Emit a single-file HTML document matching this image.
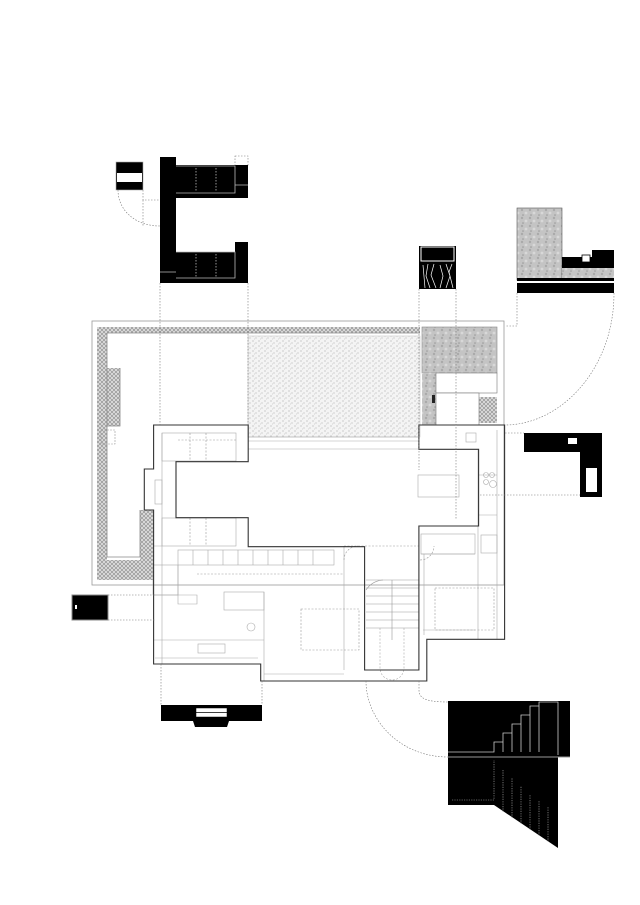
<!DOCTYPE html>
<html><head><meta charset="utf-8"><style>html,body{margin:0;padding:0;background:#fff}svg{display:block}</style></head>
<body>
<svg width="640" height="905" viewBox="0 0 640 905" xmlns="http://www.w3.org/2000/svg">
<defs>
<pattern id="hatch" width="4" height="4" patternUnits="userSpaceOnUse"><rect width="4" height="4" fill="#ddd"/><path d="M0,0L4,4M4,0L0,4" stroke="#888" stroke-width="0.6"/></pattern>
<pattern id="grav" width="6" height="5" patternUnits="userSpaceOnUse"><rect width="6" height="5" fill="#f4f4f4"/><circle cx="1" cy="1" r="0.5" fill="#888"/><circle cx="4" cy="3" r="0.5" fill="#999"/><circle cx="2.5" cy="4" r="0.4" fill="#aaa"/></pattern>
<pattern id="stone" width="8" height="8" patternUnits="userSpaceOnUse"><rect width="8" height="8" fill="#c4c4c4"/><circle cx="2" cy="2" r="1.2" fill="#aaa"/><circle cx="6" cy="5" r="1.4" fill="#d8d8d8"/><circle cx="3" cy="7" r="0.8" fill="#999"/></pattern>
</defs>
<g fill="none" stroke="#999" stroke-width="0.8">
<!-- site frame -->
<rect x="92" y="321" width="412" height="264"/>
</g>
<!-- hatched planters -->
<rect x="97" y="327" width="323" height="6" fill="url(#hatch)"/>
<rect x="97" y="327" width="10" height="253" fill="url(#hatch)"/>
<rect x="97" y="560" width="56" height="20" fill="url(#hatch)"/>
<rect x="140" y="510" width="13" height="52" fill="url(#hatch)"/>
<rect x="97" y="368" width="23" height="58" fill="url(#hatch)"/>
<rect x="479" y="397" width="18" height="26" fill="url(#hatch)"/>
<path d="M107,333 H420 M107,333 V557 H140 V510 M120,368 V426 H107" fill="none" stroke="#888" stroke-width="0.8"/>
<rect x="101" y="430" width="14" height="14" fill="none" stroke="#999" stroke-dasharray="2,1" stroke-width="0.6"/>
<!-- gravel -->
<rect x="248" y="336" width="172" height="101" fill="url(#grav)" stroke="#bbb" stroke-width="0.5"/>
<!-- stone -->
<rect x="422" y="327" width="75" height="46" fill="url(#stone)" stroke="#888" stroke-width="0.6"/>
<rect x="422" y="373" width="14" height="52" fill="url(#stone)"/>
<rect x="436" y="373" width="61" height="20" fill="#fff" stroke="#777" stroke-width="0.6"/>
<rect x="436" y="393" width="43" height="32" fill="#fff" stroke="#777" stroke-width="0.6"/>
<rect x="432" y="395" width="3" height="8" fill="#222"/>
<!-- interior thin lines -->
<g fill="none" stroke="#aaa" stroke-width="0.6">
<path d="M248,437 H419 M248,441 H419 M248,449 H419"/>
<rect x="162" y="433" width="74" height="28"/>
<rect x="162" y="518" width="74" height="28"/>
<path d="M162,433 V664 M153,546 H162"/>
<rect x="178" y="550" width="156" height="15"/>
<path d="M193,550V565M208,550V565M223,550V565M238,550V565M253,550V565M268,550V565M283,550V565M298,550V565M313,550V565"/>
<rect x="153" y="565" width="25" height="30"/>
<path d="M178,565 V604 H197 V595 H153"/>
<rect x="224" y="592" width="40" height="18"/>
<path d="M264,592 V681 M153,640 H264 M155,658 H258"/>
<rect x="198" y="644" width="27" height="9"/>
<circle cx="251" cy="627" r="4"/>
<path d="M264,674 H344 M344,670 V546"/>
<rect x="421" y="534" width="54" height="20"/>
<path d="M421,554 H475 M478,526 V639 M423,630 H475 M424,554 V635"/>
<rect x="481" y="535" width="16" height="18"/>
<path d="M478,475 H497 M478,515 H497 M478,450 V526 M497,430 V639"/>
<rect x="466" y="433" width="10" height="9"/>
<circle cx="486" cy="475" r="2.5"/><circle cx="492" cy="475" r="2.5"/><circle cx="486" cy="482" r="2.5"/><circle cx="493" cy="484" r="3.5"/>
<rect x="418" y="475" width="41" height="22"/>
<rect x="155" y="480" width="7" height="24"/>
</g>
<g fill="none" stroke="#999" stroke-width="0.6" stroke-dasharray="2,1.5">
<rect x="301" y="609" width="58" height="41"/>
<rect x="435" y="588" width="59" height="42"/>
<path d="M178,440 H236 M190,433 V461 M206,433 V461 M190,518 V546 M206,518 V546 M197,574 H344 M344,546 H419"/>
<path d="M344,560 A14,14 0 0 1 358,546 M420,560 A14,14 0 0 0 434,546"/>
</g>
<!-- stair -->
<g fill="none" stroke="#999" stroke-width="0.6">
<path d="M366,580 H419 M366,588 H419 M366,596 H419 M366,604 H419 M366,612 H419 M366,620 H419 M366,628 H419 M392,580 V640"/>
<path d="M366,590 Q372,581 383,580"/>
</g>
<path d="M380,640 V680 A12,12 0 0 0 404,680 V640" fill="none" stroke="#aaa" stroke-width="0.6" stroke-dasharray="2,1.5" transform="translate(0,-12)"/>
<!-- building outline -->
<polygon points="153.6,425 248.2,425 248.2,461.7 176,461.7 176,517.7 248.2,517.7 248.2,546.7 364.6,546.7 364.6,670 418.9,670 418.9,526 478.6,526 478.6,449.3 418.9,449.3 418.9,425 504.6,425 504.6,639.3 426.8,639.3 426.8,681 260.7,681 260.7,664 153.6,664 153.6,510 144.3,510 144.3,469 153.6,469" fill="none" stroke="#333" stroke-width="1.1"/>
<!-- dashed leaders -->
<g fill="none" stroke="#777" stroke-width="0.6" stroke-dasharray="1.5,1.5">
<path d="M160,283 V425 M248,283 V425"/>
<path d="M419,289 V470 M456,289 V520"/>
<path d="M517,293 V326 H505"/>
<path d="M614,293 C614,370 560,425 505,425"/>
<path d="M505,433 H524 M480,495 H582"/>
<path d="M108,595 H155 M108,620 H155"/>
<path d="M161,664 V705 M262,681 V705"/>
<path d="M366,681 C366,720 400,757 448,757"/>
<path d="M419,681 V690 C419,698 425,702 448,702"/>
<path d="M118,190 C118,210 135,226 160,226 M143,190 V200 H160 M143,200 V226"/>
<rect x="235" y="156" width="13" height="10"/>
</g>
<!-- top-left C element -->
<g fill="#000">
<rect x="160" y="157" width="16" height="126"/>
<rect x="176" y="165" width="72" height="33"/>
<rect x="176" y="252" width="72" height="31"/>
<rect x="235" y="242" width="13" height="12"/>
</g>
<g fill="none" stroke="#bbb" stroke-width="0.8">
<path d="M176,166 H235 V193 H176 M235,185 H248 M176,252 H235 V278 H176 M160,272 H176"/>
<path d="M196,168 V192 M216,168 V192 M196,254 V277 M216,254 V277" stroke-dasharray="1.5,1.5"/>
</g>
<rect x="116" y="162" width="27" height="28" fill="#000" stroke="#aaa" stroke-width="0.6"/>
<rect x="117" y="173" width="25" height="9" fill="#fff"/>
<!-- top mid element -->
<rect x="419" y="246" width="37" height="43" fill="#000"/>
<rect x="421" y="247" width="33" height="14" fill="#000" stroke="#fff" stroke-width="1"/>
<path d="M423,265 L425,288 M428,264 L426,276 L430,288 M434,264 L431,275 L436,288 M440,265 L443,276 L440,288 M446,264 L450,276 L446,288 M452,264 L449,272 L453,288" stroke="#fff" stroke-width="0.7" fill="none"/>
<!-- top right element -->
<rect x="517" y="208" width="45" height="72" fill="url(#stone)" stroke="#555" stroke-width="0.6"/>
<rect x="562" y="257" width="52" height="11" fill="#000"/>
<rect x="592" y="250" width="22" height="10" fill="#000"/>
<rect x="562" y="268" width="52" height="10" fill="url(#stone)"/>
<rect x="517" y="278" width="97" height="3" fill="#000"/>
<rect x="517" y="283" width="97" height="10" fill="#000"/>
<rect x="582" y="255" width="8" height="7" fill="#fff" stroke="#000" stroke-width="0.8"/>
<!-- right element -->
<polygon points="524,433 602,433 602,497 580,497 580,452 524,452" fill="#000"/>
<rect x="586" y="468" width="11" height="24" fill="#fff"/>
<rect x="568" y="438" width="9" height="6" fill="#fff"/>
<!-- left element -->
<rect x="72" y="595" width="36" height="25" fill="#000" stroke="#888" stroke-width="1"/>
<rect x="75" y="605" width="2" height="4" fill="#fff"/>
<!-- bottom element -->
<rect x="161" y="705" width="101" height="16" fill="#000"/>
<rect x="196" y="708" width="31" height="9" fill="#fff" stroke="#000" stroke-width="0.5"/>
<path d="M196,712.5 H227" stroke="#000" stroke-width="0.8"/>
<polygon points="193,721 229,721 227,727 195,727" fill="#000"/>
<!-- stair element -->
<rect x="448" y="701" width="122" height="56" fill="#000"/>
<polygon points="448,757 558,757 558,848 494,805 448,805" fill="#000"/>
<path d="M448,752 H494 V742 H503 V733 H512 V724 H521 V715 H530 V706 H539 V702 H558 V755 M503,752V742M512,752V733M521,752V724M530,752V715M539,752V706" fill="none" stroke="#ccc" stroke-width="0.8"/>
<path d="M448,757 H570" stroke="#999" stroke-width="1"/>
<g fill="none" stroke="#bbb" stroke-width="0.6" stroke-dasharray="1.2,1.2">
<path d="M452,800 H494 V760 M503,812 V770 M512,818 V778 M521,824 V786 M530,830 V794 M539,836 V800 M548,842 V806"/>
</g>
</svg>
</body></html>
